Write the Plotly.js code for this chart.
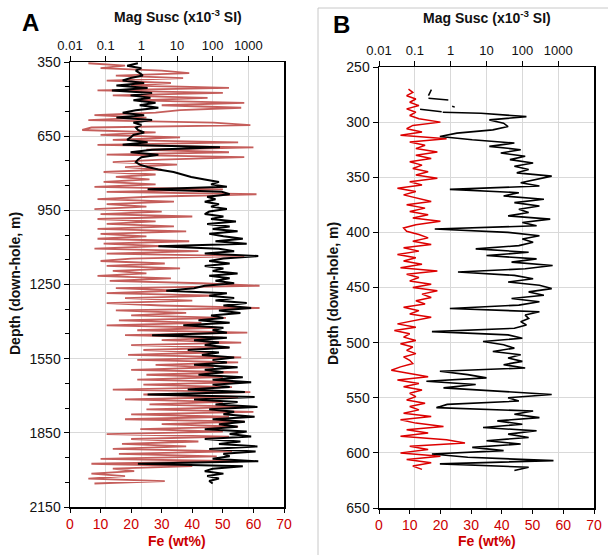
<!DOCTYPE html>
<html><head><meta charset="utf-8">
<script src="https://cdn.plot.ly/plotly-3.0.1.min.js"></script>
<style>html,body{margin:0;padding:0;background:#fff}#chart{width:608px;height:555px}</style>
</head><body><div id="chart"></div>
<script>
// ---------- Panel A ----------
const depthA = [355,365,375,385,395,405,415,425,435,445,455,465,475,485,495,505,515,525,535,545,555,565,575,585,595,605,615,625,635,645,655,665,675,685,695,705,715,725,735,745,755,765,775,785,795,805,815,825,835,845,855,865,875,885,895,905,915,925,935,945,955,965,975,985,995,1005,1015,1025,1035,1045,1055,1065,1075,1085,1095,1105,1115,1125,1135,1145,1155,1165,1175,1185,1195,1205,1215,1225,1235,1245,1255,1265,1275,1285,1295,1305,1315,1325,1335,1345,1355,1365,1375,1385,1395,1405,1415,1425,1435,1445,1455,1465,1475,1485,1495,1505,1515,1525,1535,1545,1555,1565,1575,1585,1595,1605,1615,1625,1635,1645,1655,1665,1675,1685,1695,1705,1715,1725,1735,1745,1755,1765,1775,1785,1795,1805,1815,1825,1835,1845,1855,1865,1875,1885,1895,1905,1915,1925,1935,1945,1955,1965,1975,1985,1995,2005,2015,2025,2035,2045,2055];
const feA = [6,18,10,30,39,15,37,12,33,20,
52,9,50,14,45,22,57,30,56,36,
28,8,25,6,47,59,7,4,28,10,
36,14,55,9,60,25,52,12,57,30,
14,35,18,30,11,28,15,26,11,28,
8,50,12,61,26,9,34,12,25,8,
30,10,40,9,28,12,34,9,38,10,
25,9,39,11,30,8,42,12,57,20,
10,31,12,36,14,25,9,33,13,43,
62,15,36,12,48,18,40,12,30,62,
15,38,20,51,16,43,12,48,22,58,
18,50,30,56,20,52,24,47,19,56,
22,55,28,47,20,55,25,50,22,57,
24,53,14,59,24,55,18,50,26,58,
25,60,20,52,18,57,30,55,23,50,
12,52,20,42,17,38,14,53,16,48,
10,55,7,40,14,21,7,18,6,31,8];
const msA = [0.8,0.4,1.0,0.7,0.9,1.1,0.5,0.3,1.2,0.2,
1.5,0.15,2.0,0.5,1.8,0.6,2.5,0.9,3.0,0.7,
0.3,1.2,0.2,2.0,0.6,1.0,0.7,0.8,1.2,0.6,
0.5,0.4,1.5,0.3,160,2.0,0.5,3.0,1.0,0.8,
0.7,0.9,1.5,3,8,15,25,60,150,90,
250,1.5,180,300,70,120,60,150,90,250,
80,60,200,90,450,70,300,100,500,80,
200,700,120,900,3,150,400,60,1900,200,
80,300,60,200,100,500,80,300,120,400,
60,30,5,250,80,400,120,900,200,1200,
150,600,90,200,40,300,15,200,100,250,
2,250,30,150,60,300,20,150,50,400,
100,250,30,500,60,200,40,700,100,1200,
100,300,20,800,1.5,1500,30,500,120,1800,
80,400,200,1500,100,800,150,500,60,900,
300,1200,60,600,150,1800,80,1600,200,300,
100,1900,0.8,700,100,60,200,70,150,80,100];

// ---------- Panel B ----------
const depthBfe = [270,273,276,279,282,285,288,291,294,297,300,303,306,309,312,315,318,321,324,327,330,333,336,339,342,345,348,351,354,357,360,363,366,369,372,375,378,381,384,387,390,393,396,399,402,405,408,411,414,417,420,423,426,429,432,435,438,441,444,447,450,453,456,459,462,465,468,471,474,477,480,483,486,489,492,495,498,501,504,507,510,513,516,519,522,525,528,531,534,537,540,543,546,549,552,555,558,561,564,567,570,573,576,579,582,585,588,591,594,597,600,603,606,609,612,615];
const feB = [9.6,11,9,12,10,13,9,12,10,13,
20,11,9,14,7,22,10,15,12,19,
12,17,10,14,11,16,12,19,10,14,
6,12,8,13,17,9,15,10,16,11,
20,12,8,9,13,16,11,17,8,13,
6,12,8,14,7,19,9,13,10,17,
11,19,14,17,12,15,8,13,10,17,
11,6,12,5,10,8,12,7,11,9,
12,8,10,11,7,4,10,16,6,13,
8,14,10,12,9,15,10,13,8,17,
7,12,21,9,16,7,22,28,10,16,
7,20,9,17,11,14];
const depthBms = [291,292,295,298,301,304,307,310,313,316,319,322,325,328,331,334,337,340,343,346,349,352,355,358,361,364,367,370,373,376,379,382,385,388,391,394,397,400,403,406,409,412,415,418,421,424,427,430,433,436,439,442,445,448,451,454,457,460,463,466,469,472,475,478,481,484,487,490,493,496,499,502,505,508,511,514,517,520,523,526,529,532,535,538,541,544,547,550,553,556,559,562,565,568,571,574,577,580,583,586,589,592,595,598,601,604,607,610,613,616];
const msB = [0.6,
7,130,12,30,40,15,1.5,0.5,4,60,
12,90,25,120,45,200,60,150,70,660,
250,90,300,0.95,80,30,400,60,300,80,
150,40,600,100,250,0.36,40,300,100,200,
80,5,150,10,250,50,700,120,1.6,60,
200,40,300,660,150,400,50,300,80,0.95,
300,120,150,90,130,60,0.3,40,100,8,
30,60,15,90,40,100,30,120,0.5,3,
10,0.21,5,0.63,20,660,40,80,0.8,0.4,
200,60,300,20,100,8,250,40,150,10,
90,4,30,0.3,3,740,0.5,150,60];
const fragDepthB = [270.5,276,null,278.4,280,null,285.6,286.4,null,288.4,290.5];
const fragMsB = [0.29,0.24,null,0.24,0.86,null,1.1,1.3,null,0.14,0.56];

const msTickVals = [0.01,0.1,1,10,100,1000];
const msTickText = ['0.01','0.1','1','10','100','1000'];

const W = 608, H = 555;
const px = v => v / W, py = v => 1 - v / H;
const FONT = 'Liberation Sans, Arial, sans-serif';
const RED = '#cc0000';

const traces = [
  {x: msA, y: depthA, xaxis: 'x2', yaxis: 'y', mode: 'lines', line: {color: '#000', width: 2}, hoverinfo: 'skip'},
  {x: feA, y: depthA, xaxis: 'x', yaxis: 'y', mode: 'lines', line: {color: 'rgba(192,80,77,0.92)', width: 1.8}, hoverinfo: 'skip'},
  {x: fragMsB, y: fragDepthB, xaxis: 'x4', yaxis: 'y2', mode: 'lines', connectgaps: false, line: {color: '#000', width: 1.5}, hoverinfo: 'skip'},
  {x: msB, y: depthBms, xaxis: 'x4', yaxis: 'y2', mode: 'lines', line: {color: '#000', width: 1.6}, hoverinfo: 'skip'},
  {x: feB, y: depthBfe, xaxis: 'x3', yaxis: 'y2', mode: 'lines', line: {color: '#dd0000', width: 1.5}, hoverinfo: 'skip'}
];

function feAxis(dom, anchor) {
  return {domain: dom, anchor: anchor, range: [0, 70], dtick: 10, side: 'bottom',
    showgrid: false, zeroline: false, showline: true, linecolor: '#000', linewidth: 1.5,
    ticks: 'outside', ticklen: 4, tickcolor: '#000', tickfont: {family: FONT, size: 14, color: RED}, fixedrange: true};
}
function msAxis(over, anchor) {
  return {type: 'log', overlaying: over, anchor: anchor, side: 'top', range: [-2, 4],
    tickvals: msTickVals, ticktext: msTickText, showgrid: true, gridcolor: '#d9d9d9', gridwidth: 1,
    showline: true, linecolor: '#000', linewidth: 1.5, ticks: 'outside', ticklen: 5, tickcolor: '#000',
    tickfont: {family: FONT, size: 13, color: '#111'}, zeroline: false, fixedrange: true};
}
function ann(text, x, y, size, color, angle) {
  const a = {text: text, x: px(x), y: py(y), xref: 'paper', yref: 'paper', xanchor: 'center', yanchor: 'middle',
    showarrow: false, font: {family: FONT, size: size, color: color}};
  if (angle) a.textangle = angle;
  return a;
}

const layout = {
  width: W, height: H, autosize: false,
  margin: {l: 0, r: 0, t: 0, b: 0},
  paper_bgcolor: '#fff', plot_bgcolor: '#fff',
  showlegend: false,
  font: {family: FONT, color: '#111'},
  xaxis: feAxis([px(70), px(284)], 'y'),
  xaxis2: msAxis('x', 'y'),
  xaxis3: feAxis([px(379), px(594)], 'y2'),
  xaxis4: msAxis('x3', 'y2'),
  yaxis: {domain: [py(507), py(62)], range: [2150, 350], tick0: 350, dtick: 300,
    showgrid: true, gridcolor: '#d9d9d9', zeroline: false, showline: true, mirror: true,
    linecolor: '#000', linewidth: 1.5, ticks: 'outside', ticklen: 5, tickcolor: '#000',
    minor: {tick0: 350, dtick: 100, ticks: 'outside', ticklen: 4, tickcolor: '#000', showgrid: false},
    tickfont: {family: FONT, size: 14, color: '#111'}, fixedrange: true},
  yaxis2: {domain: [py(508), py(67)], range: [650, 250], tick0: 250, dtick: 50, anchor: 'x3',
    showgrid: true, gridcolor: '#d9d9d9', zeroline: false, showline: true, mirror: true,
    linecolor: '#000', linewidth: 1.5, ticks: 'outside', ticklen: 5, tickcolor: '#000',
    tickfont: {family: FONT, size: 14, color: '#111'}, fixedrange: true},
  shapes: [
    {type: 'line', xref: 'paper', yref: 'paper', x0: px(318), x1: 1, y0: py(8), y1: py(8), line: {color: '#c8c8c8', width: 1}},
    {type: 'line', xref: 'paper', yref: 'paper', x0: px(318), x1: px(318), y0: py(8), y1: 0, line: {color: '#c8c8c8', width: 1}}
  ],
  annotations: [
    ann('<b>A</b>', 30, 22, 24, '#000'),
    ann('<b>B</b>', 341, 25, 24, '#000'),
    ann('<b>Mag Susc (x10<sup>-3</sup> SI)</b>', 178, 16, 14, '#111'),
    ann('<b>Mag Susc (x10<sup>-3</sup> SI)</b>', 487, 17, 14, '#111'),
    ann('<b>Fe (wt%)</b>', 177, 541, 14, RED),
    ann('<b>Fe (wt%)</b>', 487, 541, 14, RED),
    ann('<b>Depth (down-hole, m)</b>', 15, 284, 14, '#111', -90),
    ann('<b>Depth (down-hole, m)</b>', 333, 294, 14, '#111', -90)
  ]
};

Plotly.newPlot('chart', traces, layout, {staticPlot: true, displayModeBar: false});
</script>
</body></html>
